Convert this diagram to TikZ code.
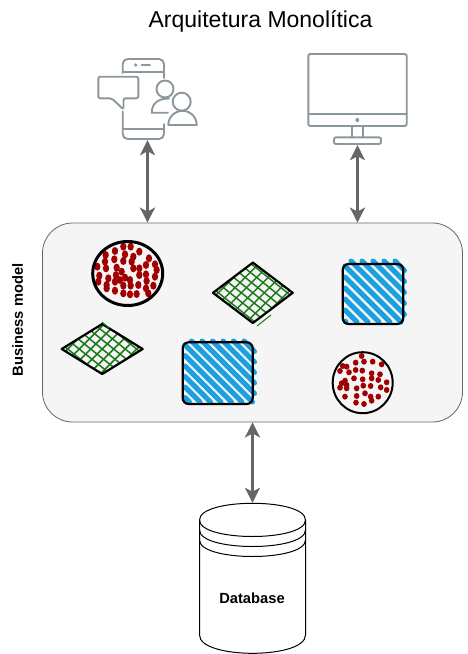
\documentclass[tikz,border=0pt]{standalone}
\usepackage{fontspec}
\setmainfont{Liberation Sans}
\usetikzlibrary{arrows.meta, positioning}

\definecolor{iconGray}{HTML}{8C979C}
\definecolor{arrowGray}{HTML}{666666}
\definecolor{boxFill}{HTML}{F5F5F5}
\definecolor{dotRed}{HTML}{A20000}
\definecolor{gridGreen}{HTML}{1A7A1A}
\definecolor{stripeBlue}{HTML}{1BA1E2}

% blue stripes of a box: xmin, ymin, xmax, ymax, offset, gap
\newcommand{\stripebox}[6]{
  \foreach \k in {-8,...,6} {
    \pgfmathsetmacro{\cc}{#5+\k*#6}
    \pgfmathsetmacro{\ya}{max(#2,#1-\cc)}
    \pgfmathsetmacro{\yb}{min(#4,#3-\cc)}
    \ifdim\ya pt<\yb pt
      \draw[stripe] ({\ya+\cc},\ya) -- ({\yb+\cc},\yb);
    \fi
  }
}
% green grid of a diamond: left x, top y, right x, bottom y
\newcommand{\griddiamond}[4]{
  \pgfmathsetmacro{\gx}{(#1+#3)/2}
  \pgfmathsetmacro{\gy}{(#2+#4)/2}
  \begin{scope}
    \clip (#1,\gy) -- (\gx,#2) -- (#3,\gy) -- (\gx,#4) -- cycle;
    \foreach \k in {-5,...,5} {
      \draw[gridline] ({\gx+\k*11.5-45},{\gy-36}) -- ({\gx+\k*11.5+45},{\gy+36});
      \draw[gridline] ({\gx+\k*11.5-40},{\gy+40}) -- ({\gx+\k*11.5+40},{\gy-40});
    }
  \end{scope}
  \draw[sketch] (#1,\gy) -- (\gx,#2) -- (#3,\gy) -- (\gx,#4) -- cycle;
}

\begin{document}
\begin{tikzpicture}[
    x=1pt,y=-1pt,
    sketch/.style={draw=black,line width=2.2pt,line join=round,line cap=round},
    stripe/.style={draw=stripeBlue,line width=5pt,line cap=round},
    gridline/.style={draw=gridGreen,line width=1.5pt},
    reddot/.style={fill=dotRed},
    icon/.style={draw=iconGray,line width=1.9pt,line join=round,line cap=round,rounded corners=2pt},
    link/.style={draw=arrowGray,line width=3.4pt,{Stealth[length=15pt,width=15pt,inset=4pt]}-{Stealth[length=15pt,width=15pt,inset=4pt]}},
    bold/.style={font=\fontsize{14.7}{17}\selectfont\bfseries}
  ]
    \useasboundingbox (0,0) rectangle (467,654);
    \node[font=\fontsize{23}{27}\selectfont] (title) at (260.5,21) {Arquitetura Monolítica};

    \node[draw=arrowGray,fill=boxFill,rounded corners=30pt,line width=0.8pt,minimum width=420pt,minimum height=199pt] (model) at (252.5,322.5) {};
    \node[bold,rotate=90] (modellabel) at (17.5,320) {Business model};

    \node[minimum width=80pt,minimum height=80pt,inner sep=0pt] (mobile) at (147.5,100) {};
    \node[minimum width=98pt,minimum height=91pt,inner sep=0pt] (desktop) at (357.5,99.5) {};
    \node[minimum width=106pt,minimum height=150pt,inner sep=0pt] (database) at (252.5,578) {};

    % phone
    \draw[icon,rounded corners=5pt] (122.7,73) -- (122.7,59) -- (164,59) -- (164,78);
    \draw[icon,rounded corners=5pt] (122.7,111.5) -- (122.7,139) -- (164,139) -- (164,124);
    \draw[icon] (122.7,71.7) -- (164,71.7) (122.7,129.3) -- (164,129.3) (141.7,65) -- (150,65);
    \fill[iconGray] (135.7,65) circle (1.8);
    \draw[icon] (111.7,98.3) -- (98.3,98.3) -- (98.3,76.7) -- (138.3,76.7) -- (138.3,98.3) -- (123.5,98.3) -- (123.5,109.5) -- cycle;
    % people
    \draw[icon] (165,89) circle (8.5);
    \draw[icon,rounded corners=0pt] (168,112.7) -- (151.7,112.7) .. controls (152,104) and (157,98.5) .. (169,98.5);
    \draw[icon] (181.7,101.7) circle (9);
    \draw[icon,rounded corners=0pt] (168.3,125) -- (196.7,125) arc[start angle=0,end angle=-180,radius=14.2];

    % monitor
    \draw[icon] (308.3,54) rectangle (406.7,126);
    \draw[icon] (308.3,114) -- (406.7,114);
    \fill[iconGray] (357.3,120) circle (2);
    \draw[icon,rounded corners=0pt] (351.7,126) -- (351.7,137) (362.7,126) -- (362.7,137);
    \draw[icon] (334,137.3) rectangle (381,144);

    % round shape, large
    \begin{scope}[shift={(40,225)},x=0.3333pt,y=-0.3333pt]
      \foreach \dotx/\doty in {250/65,272/65,298/80,225/78,197/90,255/88,280/95,327/100,195/110,223/103,250/108,275/110,345/118,318/120,172/125,198/130,230/128,280/130,298/130,350/135,245/140,318/148,298/150,228/150,178/152,205/160,345/155,255/158,270/165,175/170,225/170,320/168,295/180,250/182,272/182,200/180,340/182,318/190,225/197,250/205,270/208,290/207,325/205,200/190,240/165}
        \fill[reddot] (\dotx,\doty) ellipse [x radius=9.5,y radius=12];
    \end{scope}
    \draw[sketch,line width=3pt] (127.7,273.5) ellipse [x radius=35,y radius=32];

    % round shape, small
    \begin{scope}[shift={(250,225)},x=0.3333pt,y=-0.3333pt]
      \foreach \dotx/\doty in {335/393,317/413,342/410,368/410,395/418,278/423,290/425,270/438,297/442,317/435,337/437,365/445,390/448,365/460,312/460,338/463,385/465,410/472,285/467,275/475,270/488,290/490,320/490,340/482,362/483,392/487,410/495,345/505,320/513,362/515,385/515,285/515,318/533,342/537,365/527,290/480}
        \fill[reddot] (\dotx,\doty) ellipse [x radius=8.5,y radius=9];
    \end{scope}
    \draw[sketch,line width=2pt] (362.7,382.7) ellipse [x radius=30,y radius=30.5];

    % diamonds
    \griddiamond{213}{262.6}{292.7}{323}
    \draw[gridline,line width=1pt] (257,326) -- (271,315);
    \griddiamond{61.7}{324}{142.7}{374}
    \draw[gridline,line width=1pt] (102,322) -- (109,328);

    % boxes
    \stripebox{345}{261}{404.5}{322}{90}{11}
    \draw[sketch,rounded corners=6pt] (342.7,264) rectangle (403.3,324);
    \stripebox{185}{341}{254.5}{402}{-139}{10.5}
    \draw[sketch,rounded corners=6pt] (182.7,342.3) rectangle (252.7,404);

    % database
    \draw[draw=black,line width=1pt,fill=white]
      (199.5,520) .. controls (199.5,497.7) and (305.5,497.7) .. (305.5,520)
      -- (305.5,635) .. controls (305.5,659.4) and (199.5,659.4) .. (199.5,635) -- cycle;
    \draw[line width=1pt]
      (199.5,520) .. controls (199.5,542) and (305.5,542) .. (305.5,520)
      (199.5,530) .. controls (199.5,552) and (305.5,552) .. (305.5,530)
      (199.5,540) .. controls (199.5,562) and (305.5,562) .. (305.5,540);
    \node[bold] (databaselabel) at (252,598.5) {Database};

    \draw[link] (mobile.south) -- (mobile.south|-model.north);
    \draw[link] (desktop.south) -- (desktop.south|-model.north);
    \draw[link] (model.south) -- (database.north);
  \end{tikzpicture}
\end{document}
